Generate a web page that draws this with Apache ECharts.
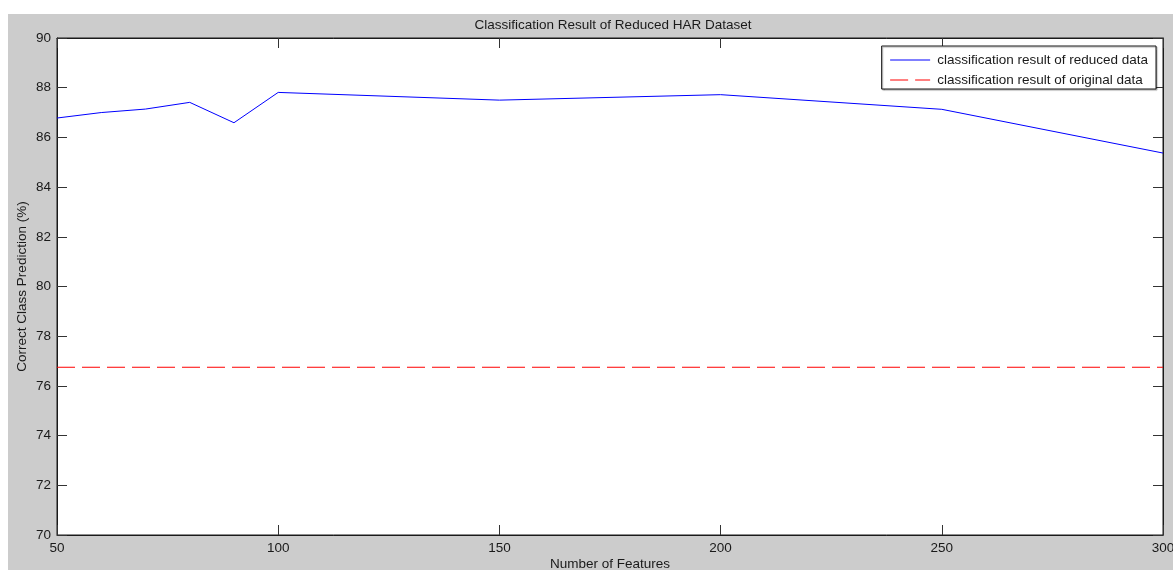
<!DOCTYPE html>
<html>
<head>
<meta charset="utf-8">
<style>
html,body{margin:0;padding:0;background:#fff;}
#chart{width:1173px;height:570px;}
</style>
<script src="https://cdn.jsdelivr.net/npm/echarts@6/dist/echarts.min.js"></script>
</head>
<body>
<div id="chart"></div>
<script>
// Data
var features = [50, 60, 70, 80, 90, 100, 150, 200, 250, 300];
var reducedAccuracy = [86.78, 87.00, 87.14, 87.41, 86.59, 87.81, 87.50, 87.72, 87.13, 85.37];
var originalFeatures = [50, 300];
var originalAccuracy = [76.75, 76.75];
var seriesNames = ['classification result of reduced data', 'classification result of original data'];
var titleText = 'Classification Result of Reduced HAR Dataset';
var xTitle = 'Number of Features';
var yTitle = 'Correct Class Prediction (%)';

function pairs(xs, ys) { return xs.map(function (x, i) { return [x, ys[i]]; }); }

var font = 'Liberation Sans, Arial, sans-serif';
var fs = 13.5;
var axisCommon = {
  axisLine: { show: true, lineStyle: { color: '#1a1a1a', width: 1 } },
  axisTick: { show: true, inside: true, length: 10, lineStyle: { color: '#333', width: 1 } },
  splitLine: { show: false }
};

var chart = echarts.init(document.getElementById('chart'), null, { renderer: 'canvas' });
chart.setOption({
  backgroundColor: '#ffffff',
  animation: false,
  graphic: [{
    type: 'rect', z: -100, silent: true,
    shape: { x: 8, y: 14, width: 1165, height: 556 },
    style: { fill: '#cccccc' }
  }],
  title: {
    text: titleText, left: 608, top: 13, textAlign: 'center',
    textStyle: { fontFamily: font, fontSize: fs, fontWeight: 'normal', color: '#1a1a1a' }
  },
  grid: {
    left: 57, right: 10, top: 38, bottom: 35,
    outerBoundsMode: 'none', containLabel: false,
    show: true, backgroundColor: '#ffffff', borderColor: '#1a1a1a', borderWidth: 1
  },
  legend: {
    orient: 'vertical', right: 17, top: 46,
    data: seriesNames,
    itemWidth: 40, itemHeight: 14, itemGap: 6,
    padding: [7, 8, 2, 8],
    backgroundColor: '#ffffff', borderColor: '#1a1a1a', borderWidth: 1,
    shadowColor: 'rgba(0,0,0,0.35)', shadowOffsetX: 1, shadowOffsetY: 1, shadowBlur: 1,
    itemStyle: { opacity: 0, borderWidth: 0 },
    lineStyle: { width: 1 },
    textStyle: { fontFamily: font, fontSize: fs, color: '#1a1a1a', padding: [0, 0, 0, 2] }
  },
  xAxis: [
    Object.assign({
      type: 'value', min: 50, max: 300, interval: 50, position: 'bottom',
      name: xTitle, nameLocation: 'middle', nameGap: 22, nameMoveOverlap: false,
      nameTextStyle: { fontFamily: font, fontSize: fs, color: '#1a1a1a' },
      axisLabel: { fontFamily: font, fontSize: fs, color: '#1a1a1a', margin: 6 }
    }, axisCommon),
    Object.assign({
      type: 'value', min: 50, max: 300, interval: 50, position: 'top',
      axisLabel: { show: false }
    }, axisCommon)
  ],
  yAxis: [
    Object.assign({
      type: 'value', min: 70, max: 90, interval: 2, position: 'left',
      name: yTitle, nameLocation: 'middle', nameGap: 28, nameRotate: 90, nameMoveOverlap: false,
      nameTextStyle: { fontFamily: font, fontSize: fs, color: '#1a1a1a' },
      axisLabel: { fontFamily: font, fontSize: fs, color: '#1a1a1a', margin: 6 }
    }, axisCommon),
    Object.assign({
      type: 'value', min: 70, max: 90, interval: 2, position: 'right',
      axisLabel: { show: false }
    }, axisCommon)
  ],
  series: [
    {
      name: seriesNames[0], type: 'line', xAxisIndex: 0, yAxisIndex: 0,
      data: pairs(features, reducedAccuracy),
      symbol: 'none', showSymbol: false,
      lineStyle: { color: '#0000ff', width: 1 },
      itemStyle: { color: '#0000ff' }
    },
    {
      name: seriesNames[1], type: 'line', xAxisIndex: 0, yAxisIndex: 0,
      data: pairs(originalFeatures, originalAccuracy),
      symbol: 'none', showSymbol: false,
      lineStyle: { color: '#ff0000', width: 1, type: [18, 7] },
      itemStyle: { color: '#ff0000' }
    }
  ]
});
</script>
</body>
</html>
